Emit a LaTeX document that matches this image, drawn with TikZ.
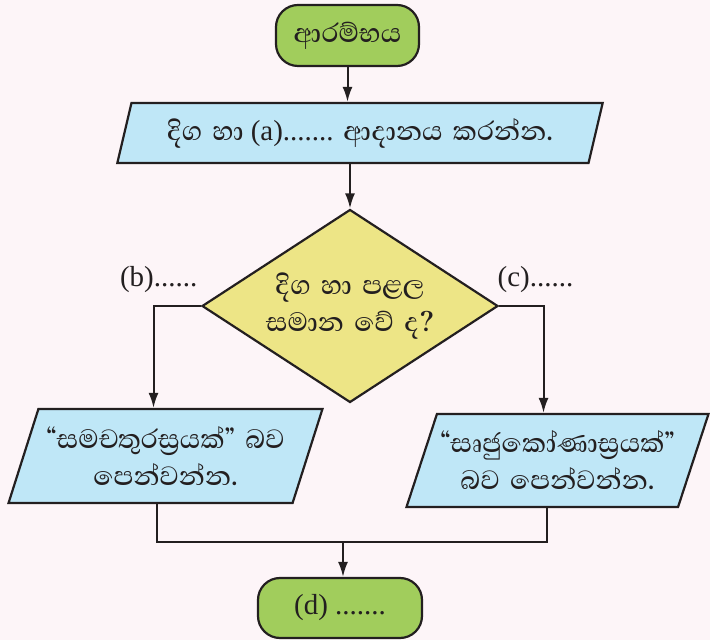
\documentclass[tikz,border=0pt]{standalone}
\usepackage{fontspec}
\setmainfont{Liberation Serif}
\newfontfamily\sinfont[Script=Sinhala,Scale=1.17,WordSpace=1.6]{Abhaya Libre Medium}
\usetikzlibrary{arrows.meta,shapes.geometric,positioning}

\definecolor{bgpink}{RGB}{253,245,248}
\definecolor{termgreen}{RGB}{161,205,92}
\definecolor{ioblue}{RGB}{191,231,247}
\definecolor{decyellow}{RGB}{237,229,134}
\definecolor{inkblack}{RGB}{35,31,32}

\begin{document}
\begin{tikzpicture}[
    x=1pt, y=1pt,
    >={Latex[length=15pt,width=10pt]}, % Set default arrow tip style
    every node/.style={font=\fontsize{29}{37}\selectfont, text=inkblack},
    term/.style={rectangle, rounded corners=22pt, draw=inkblack, line width=2.2pt, fill=termgreen},
    io/.style 2 args={trapezium, trapezium left angle=#1, trapezium right angle=#2,
        trapezium stretches=true, draw=inkblack, line width=2.2pt, fill=ioblue, align=center},
    decision/.style={diamond, shape aspect=1.53, draw=inkblack, line width=2.2pt, fill=decyellow,
        inner sep=0pt, align=center},
    conn/.style={draw=inkblack, line width=2pt}
]

    % Background
    \fill[bgpink] (0,0) rectangle (710,640);
    \useasboundingbox (0,0) rectangle (710,640);

    % Blocks
    \node[term, minimum width=143pt, minimum height=61pt] (start) at (347.5,604.5) {\sinfont ආරම්භය};
    \node[io={71.6}{108.4}, minimum width=486pt, minimum height=60pt] (input) at (360,507)
        {{\sinfont දිග හා} (a)....... {\sinfont ආදානය කරන්න.}};
    \node[decision, minimum width=296pt, minimum height=193pt] (check) at (350,334)
        {\sinfont දිග හා පළල\\\sinfont සමාන වේ ද?};
    \node[io={66.4}{113.6}, minimum width=315pt, minimum height=94pt] (square) at (165.5,184)
        {\sinfont “සමචතුරස්^^^^200dරයක්” බව\\\sinfont පෙන්වන්න.};
    \node[io={65.2}{114.8}, minimum width=301pt, minimum height=93pt] (rect) at (557.5,179.5)
        {\sinfont “සෘජුකෝණාස්^^^^200dරයක්”\\\sinfont බව පෙන්වන්න.};
    \node[term, minimum width=164pt, minimum height=60pt] (stop) at (340,32) {(d) .......};

    % Branch labels
    \node[above left=10pt and 0pt of check.west] (labelb) {(b)......};
    \node[above right=10pt and -5pt of check.east] (labelc) {(c)......};

    % Connectors
    \draw[->, conn] (start.south) -- (start.south |- input.north);
    \draw[->, conn] (input.south -| check.north) -- (check.north);
    \draw[->, conn] (check.west) -| ([xshift=-12pt]square.north);
    \draw[->, conn] (check.east) -| ([xshift=-14pt]rect.north);
    \coordinate (join) at (343,98);
    \draw[conn] ([xshift=-9pt]square.south) |- (join) -| ([xshift=-11pt]rect.south);
    \draw[->, conn] (join) -- (join |- stop.north);

\end{tikzpicture}
\end{document}
